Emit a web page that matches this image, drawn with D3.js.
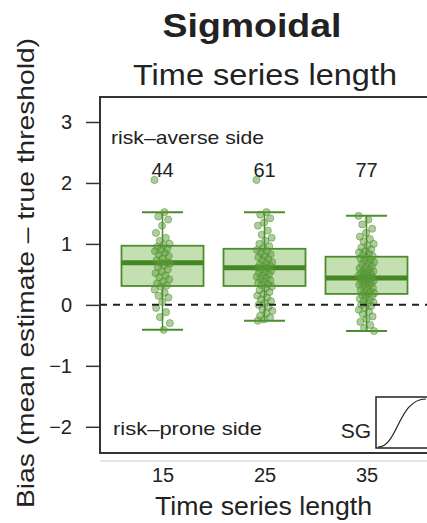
<!DOCTYPE html>
<html>
<head>
<meta charset="utf-8">
<script src="https://cdn.jsdelivr.net/npm/d3@7"></script>
<style>
  body { margin: 0; background: #fff; }
  text { font-family: "Liberation Sans", Arial, Helvetica, sans-serif; fill: #222; }
</style>
</head>
<body>
<script>
// data
var categories = ["15", "25", "35"];
var counts = [44, 61, 77];
var boxLow = [-0.41, -0.26, -0.43];
var boxQ1 = [0.31, 0.31, 0.18];
var boxMed = [0.69, 0.61, 0.44];
var boxQ3 = [0.97, 0.92, 0.79];
var boxHigh = [1.52, 1.52, 1.46];
var yTicks = [-2, -1, 0, 1, 2, 3];

var points15 = [2.05, 1.52, 1.45, 1.40, 1.30, 1.18, 1.10, 1.05, 1.00, 0.98, 0.95, 0.92, 0.90, 0.88, 0.85,
  0.82, 0.80, 0.76, 0.73, 0.70, 0.69, 0.68, 0.65, 0.62, 0.58, 0.55, 0.52, 0.48, 0.45, 0.42, 0.38, 0.35,
  0.32, 0.30, 0.25, 0.20, 0.15, 0.12, 0.05, -0.05, -0.12, -0.20, -0.30, -0.41];
var points25 = [2.05, 1.52, 1.48, 1.42, 1.35, 1.30, 1.22, 1.15, 1.10, 1.05, 1.00, 0.96, 0.93, 0.90, 0.88,
  0.85, 0.83, 0.80, 0.78, 0.75, 0.73, 0.70, 0.68, 0.66, 0.64, 0.62, 0.61, 0.60, 0.58, 0.56, 0.54, 0.52,
  0.50, 0.48, 0.46, 0.44, 0.42, 0.40, 0.38, 0.36, 0.34, 0.32, 0.30, 0.27, 0.24, 0.21, 0.18, 0.15, 0.12,
  0.09, 0.06, 0.03, 0.00, -0.03, -0.07, -0.10, -0.14, -0.18, -0.21, -0.24, -0.26];
var points35 = [1.46, 1.40, 1.32, 1.25, 1.18, 1.12, 1.08, 1.04, 1.00, 0.97, 0.94, 0.91, 0.88, 0.86, 0.84,
  0.82, 0.80, 0.78, 0.76, 0.74, 0.72, 0.70, 0.68, 0.66, 0.64, 0.62, 0.60, 0.58, 0.56, 0.55, 0.54, 0.52,
  0.51, 0.50, 0.48, 0.47, 0.46, 0.45, 0.44, 0.43, 0.42, 0.41, 0.40, 0.38, 0.37, 0.36, 0.34, 0.33, 0.32,
  0.30, 0.28, 0.26, 0.24, 0.22, 0.20, 0.19, 0.18, 0.16, 0.14, 0.12, 0.10, 0.08, 0.06, 0.04, 0.02, 0.00,
  -0.02, -0.05, -0.08, -0.11, -0.15, -0.19, -0.23, -0.28, -0.33, -0.38, -0.43];
var allPoints = [points15, points25, points35];

var width = 427, height = 523;
var panel = {left: 100, top: 97, right: 428, bottom: 453};

var svg = d3.select("body").append("svg")
    .attr("width", width)
    .attr("height", height);

var x = d3.scalePoint().domain(categories).range([162.5, 366.5]);
var y = d3.scaleLinear().domain([-2.43, 3.41]).range([panel.bottom, panel.top]);

var boxW = 82, capW = 41;
var green = "#4c8c2c";

//titles
svg.append("text").attr("x", 252).attr("y", 37)
    .attr("text-anchor", "middle").style("font-size", "34px").style("font-weight", "bold")
    .attr("textLength", 179).attr("lengthAdjust", "spacingAndGlyphs")
    .text("Sigmoidal");

svg.append("text").attr("x", 265).attr("y", 85)
    .attr("text-anchor", "middle").style("font-size", "30px")
    .attr("textLength", 264).attr("lengthAdjust", "spacingAndGlyphs")
    .text("Time series length");

//boxes
var g = svg.selectAll(".box")
    .data(categories)
    .enter().append("g")
    .attr("class", "box");

g.append("line")
    .attr("x1", function(d) { return x(d); }).attr("x2", function(d) { return x(d); })
    .attr("y1", function(d, i) { return y(boxHigh[i]); })
    .attr("y2", function(d, i) { return y(boxLow[i]); })
    .attr("stroke", green).attr("stroke-width", 1.5);

g.selectAll(".cap")
    .data(function(d, i) { return [{c: d, v: boxHigh[i]}, {c: d, v: boxLow[i]}]; })
    .enter().append("line")
    .attr("x1", function(d) { return x(d.c) - capW / 2; })
    .attr("x2", function(d) { return x(d.c) + capW / 2; })
    .attr("y1", function(d) { return y(d.v); })
    .attr("y2", function(d) { return y(d.v); })
    .attr("stroke", green).attr("stroke-width", 2);

g.append("rect")
    .attr("x", function(d) { return x(d) - boxW / 2; })
    .attr("width", boxW)
    .attr("y", function(d, i) { return y(boxQ3[i]); })
    .attr("height", function(d, i) { return y(boxQ1[i]) - y(boxQ3[i]); })
    .attr("fill", "#c4dfb2")
    .attr("stroke", green).attr("stroke-width", 1.8);

g.append("line")
    .attr("x1", function(d) { return x(d) - boxW / 2; })
    .attr("x2", function(d) { return x(d) + boxW / 2; })
    .attr("y1", function(d, i) { return y(boxMed[i]); })
    .attr("y2", function(d, i) { return y(boxMed[i]); })
    .attr("stroke", "#468625").attr("stroke-width", 5);

//zero line
svg.append("line")
    .attr("x1", panel.left).attr("x2", panel.right)
    .attr("y1", y(0)).attr("y2", y(0))
    .attr("stroke", "#222").attr("stroke-width", 2)
    .attr("stroke-dasharray", "7,6");

//jittered points
g.selectAll("circle")
    .data(function(d, i) { return allPoints[i].map(function(v) { return {c: d, v: v}; }); })
    .enter().append("circle")
    .attr("cx", function(d, j) { return x(d.c) + ((j * 0.618034) % 1 - 0.5) * 16; })
    .attr("cy", function(d) { return y(d.v); })
    .attr("r", 3.6)
    .attr("fill", "#5c9e3a").attr("fill-opacity", 0.5)
    .attr("stroke", "#4c8c2c").attr("stroke-opacity", 0.6).attr("stroke-width", 0.8);

//counts
svg.selectAll(".count")
    .data(categories)
    .enter().append("text")
    .attr("class", "count")
    .attr("x", function(d) { return x(d); })
    .attr("y", 177)
    .attr("text-anchor", "middle").style("font-size", "20px")
    .text(function(d, i) { return counts[i]; });

//panel labels
svg.append("text").attr("x", 111).attr("y", 144).style("font-size", "19px")
    .attr("textLength", 153).attr("lengthAdjust", "spacingAndGlyphs")
    .text("risk–averse side");
svg.append("text").attr("x", 113).attr("y", 435).style("font-size", "19px")
    .attr("textLength", 149).attr("lengthAdjust", "spacingAndGlyphs")
    .text("risk–prone side");

//SG inset
svg.append("text").attr("x", 371).attr("y", 438)
    .attr("text-anchor", "end").style("font-size", "21px").text("SG");
var inset = svg.append("g").attr("transform", "translate(376,397)");
inset.append("rect").attr("width", 52).attr("height", 51)
    .attr("fill", "none").attr("stroke", "#222").attr("stroke-width", 1.5);
var p = d3.path();
p.moveTo(2, 50);
p.bezierCurveTo(22, 50, 22, 2, 50, 2);
inset.append("path").attr("d", p.toString())
    .attr("fill", "none").attr("stroke", "#222").attr("stroke-width", 1.2);

//panel frame
svg.append("rect")
    .attr("x", panel.left).attr("y", panel.top)
    .attr("width", panel.right - panel.left).attr("height", panel.bottom - panel.top)
    .attr("fill", "none").attr("stroke", "#333").attr("stroke-width", 2);
svg.append("line")
    .attr("x1", panel.left).attr("x2", width)
    .attr("y1", panel.bottom + 8).attr("y2", panel.bottom + 8)
    .attr("stroke", "#ccc").attr("stroke-width", 1);

//y axis
var yAxis = svg.append("g")
    .attr("transform", "translate(" + panel.left + ",0)")
    .call(d3.axisLeft(y).tickValues(yTicks).tickFormat(d3.format("d")).tickSize(14).tickPadding(14));
yAxis.select(".domain").remove();
yAxis.selectAll("line").attr("stroke", "#333").attr("stroke-width", 1.5);
yAxis.selectAll("text").style("font-size", "20px").style("font-family", null);

//x axis labels
var xAxis = svg.append("g")
    .attr("transform", "translate(0," + panel.bottom + ")")
    .call(d3.axisBottom(x).tickSize(0).tickPadding(15));
xAxis.select(".domain").remove();
xAxis.selectAll("text").style("font-size", "20px").style("font-family", null);

svg.append("text").attr("x", 263.5).attr("y", 515)
    .attr("text-anchor", "middle").style("font-size", "25px")
    .attr("textLength", 217).attr("lengthAdjust", "spacingAndGlyphs")
    .text("Time series length");

svg.append("text")
    .attr("transform", "translate(34,273) rotate(-90)")
    .attr("text-anchor", "middle").style("font-size", "24px")
    .attr("textLength", 470).attr("lengthAdjust", "spacingAndGlyphs")
    .text("Bias (mean estimate – true threshold)");
</script>
</body>
</html>
